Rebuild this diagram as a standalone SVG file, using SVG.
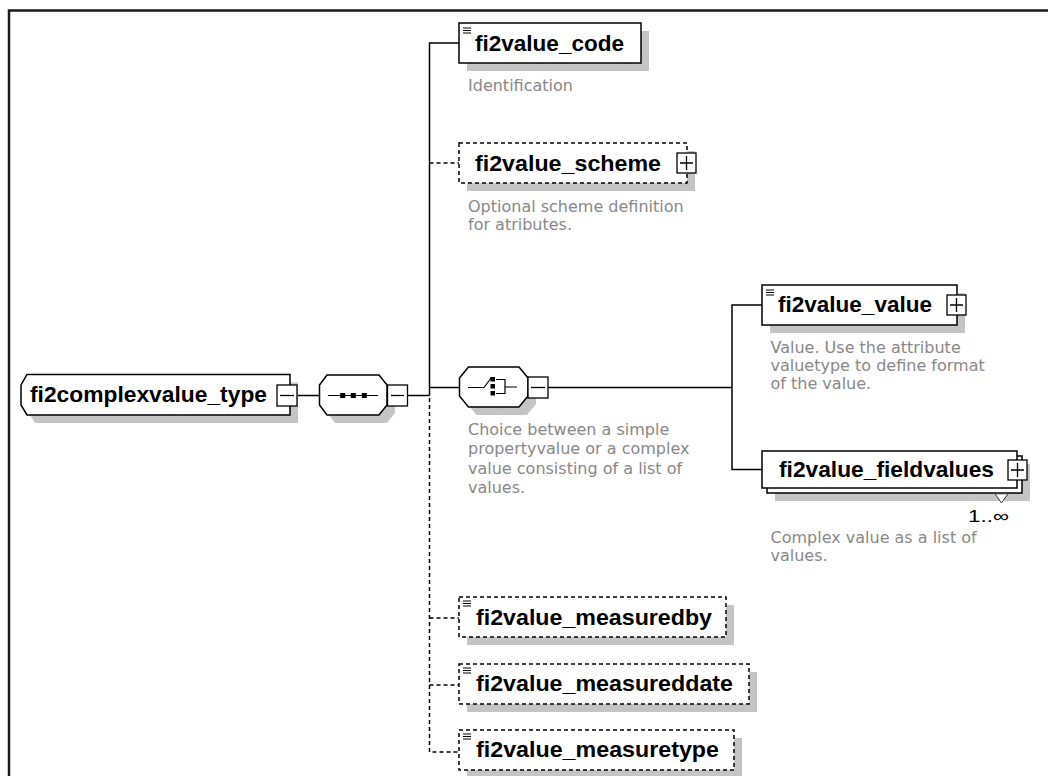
<svg xmlns="http://www.w3.org/2000/svg" width="1048" height="776" viewBox="0 0 1048 776">
<defs>
<style>
.frame{fill:none;stroke:#1a1a1a;stroke-width:2.5}
.box{fill:#fff;stroke:#000;stroke-width:1.5}
.dbox{fill:#fff;stroke:#000;stroke-width:1.5;stroke-dasharray:4 3}
.shadow{fill:#c4c4c4;stroke:none}
.conn{fill:none;stroke:#000;stroke-width:1.5}
.dconn{fill:none;stroke:#000;stroke-width:1.5;stroke-dasharray:4 3}
.lbl{font-family:"Liberation Sans",Arial,sans-serif;font-weight:bold;font-size:22px;fill:#000}
.desc{font-family:"DejaVu Sans",Verdana,sans-serif;font-size:16px;fill:#888}
.occ{font-family:"Liberation Sans",Arial,sans-serif;font-size:17px;fill:#000}
.btn{fill:#fff;stroke:#000;stroke-width:1.3}
.sign{stroke:#000;stroke-width:1.3;fill:none}
.icon{stroke:#000;stroke-width:1.2;fill:none}
</style>
</defs>
<rect x="0" y="0" width="1048" height="776" fill="#fff"/>
<rect class="frame" x="9" y="10.5" width="1100" height="800"/>

<g id="connectors">
  <path class="conn" d="M297,395.5 H319.5"/>
  <path class="conn" d="M407.5,395.5 H429.5"/>
  <path class="conn" d="M429.5,395.5 V43 H459"/>
  <path class="conn" d="M429.5,387.5 H459.5"/>
  <path class="dconn" d="M429.5,163 H459"/>
  <path class="dconn" d="M429.5,398 V752 H459"/>
  <path class="dconn" d="M429.5,618 H459"/>
  <path class="dconn" d="M429.5,685 H459"/>
  <path class="conn" d="M548,387.5 H732"/>
  <path class="conn" d="M762,305 H732 V469.5 H762"/>
</g>

<g id="fi2complexvalue_type">
  <polygon class="shadow" points="35,382.5 298,382.5 298,423 35,423 29,413 29,393"/>
  <polygon class="box" points="27,374.5 290,374.5 290,415 27,415 21,405 21,385"/>
  <text class="lbl" x="30" y="402" textLength="237" lengthAdjust="spacingAndGlyphs">fi2complexvalue_type</text>
  <rect class="btn" x="277" y="385" width="20" height="21"/>
  <line class="sign" x1="280" y1="395.5" x2="294" y2="395.5"/>
</g>

<g id="sequence">
  <polygon class="shadow" points="327.5,393 335,383 387,383 395,393 395,413 387,423 335,423 327.5,413"/>
  <polygon class="box" points="319.5,385 327,375 379,375 387,385 387,405 379,415 327,415 319.5,405"/>
  <line class="icon" x1="328" y1="395.5" x2="378" y2="395.5"/>
  <rect x="340.2" y="393" width="5" height="5" fill="#000"/>
  <rect x="350.8" y="393" width="5" height="5" fill="#000"/>
  <rect x="361.8" y="393" width="5" height="5" fill="#000"/>
  <rect class="btn" x="387.5" y="385" width="20" height="21"/>
  <line class="sign" x1="391" y1="395.5" x2="404" y2="395.5"/>
</g>

<g id="choice">
  <polygon class="shadow" points="467.5,386 476.5,375 527,375 536,386 536,404 527,415 476.5,415 467.5,404"/>
  <polygon class="box" points="459.5,378 468.5,367 519,367 528,378 528,396 519,407 468.5,407 459.5,396"/>
  <path class="icon" d="M468,387.5 H484 L491,378"/>
  <rect x="490.5" y="377" width="4.5" height="4.5" fill="#000"/>
  <rect x="490.5" y="384" width="4.5" height="4.5" fill="#000"/>
  <rect x="490.5" y="391" width="4.5" height="4.5" fill="#000"/>
  <path class="icon" d="M496,379.5 H505 V393.5 H496 M505,387 H517"/>
  <rect class="btn" x="528" y="377" width="20" height="21"/>
  <line class="sign" x1="531" y1="387.5" x2="545" y2="387.5"/>
  <text class="desc" x="468" y="435">Choice between a simple</text>
  <text class="desc" x="468" y="454">propertyvalue or a complex</text>
  <text class="desc" x="468" y="474">value consisting of a list of</text>
  <text class="desc" x="468" y="493">values.</text>
</g>

<g id="fi2value_code">
  <rect class="shadow" x="467" y="31" width="182" height="40"/>
  <rect class="box" x="459" y="23" width="182" height="40"/>
  <path class="icon" d="M463,28 H471 M463,30.5 H471 M463,33 H471"/>
  <text class="lbl" x="475" y="50.5" textLength="149" lengthAdjust="spacingAndGlyphs">fi2value_code</text>
  <text class="desc" x="468" y="91">Identification</text>
</g>

<g id="fi2value_scheme">
  <rect class="shadow" x="467" y="151" width="228" height="40"/>
  <rect class="dbox" x="459" y="143" width="228" height="40"/>
  <text class="lbl" x="475" y="170.5" textLength="186" lengthAdjust="spacingAndGlyphs">fi2value_scheme</text>
  <rect class="btn" x="677" y="153" width="19" height="20"/>
  <path class="sign" d="M680,163 H693 M686.5,156 V170"/>
  <text class="desc" x="468" y="212">Optional scheme definition</text>
  <text class="desc" x="468" y="230">for atributes.</text>
</g>

<g id="fi2value_value">
  <rect class="shadow" x="770" y="293" width="195" height="40"/>
  <rect class="box" x="762" y="285" width="195" height="40"/>
  <path class="icon" d="M766,290 H774 M766,292.5 H774 M766,295 H774"/>
  <text class="lbl" x="778" y="312" textLength="154" lengthAdjust="spacingAndGlyphs">fi2value_value</text>
  <rect class="btn" x="947" y="295" width="19" height="20"/>
  <path class="sign" d="M950,305 H963 M956.5,298 V312"/>
  <text class="desc" x="770.5" y="353">Value. Use the attribute</text>
  <text class="desc" x="770.5" y="371">valuetype to define format</text>
  <text class="desc" x="770.5" y="389">of the value.</text>
</g>

<g id="fi2value_fieldvalues">
  <rect class="shadow" x="775" y="464" width="255" height="37"/>
  <rect class="box" x="767" y="456" width="255" height="37"/>
  <rect class="box" x="762" y="451" width="255" height="37"/>
  <text class="lbl" x="779" y="476.5" textLength="215" lengthAdjust="spacingAndGlyphs">fi2value_fieldvalues</text>
  <rect class="btn" x="1008" y="460" width="19" height="20"/>
  <path class="sign" d="M1011,470 H1024 M1017.5,463 V477"/>
  <polygon points="995,493.8 1001.5,503 1008,493.8" fill="#fff" stroke="#333" stroke-width="1"/>
  <text class="occ" x="968" y="522" textLength="41" lengthAdjust="spacingAndGlyphs">1..∞</text>
  <text class="desc" x="770.5" y="543">Complex value as a list of</text>
  <text class="desc" x="770.5" y="561">values.</text>
</g>

<g id="fi2value_measuredby">
  <rect class="shadow" x="467" y="605" width="267" height="40"/>
  <rect class="dbox" x="459" y="597" width="267" height="40"/>
  <path class="icon" d="M463,601 H471 M463,603.5 H471 M463,606 H471"/>
  <text class="lbl" x="476" y="625" textLength="236" lengthAdjust="spacingAndGlyphs">fi2value_measuredby</text>
</g>

<g id="fi2value_measureddate">
  <rect class="shadow" x="467" y="672" width="290" height="40"/>
  <rect class="dbox" x="459" y="664" width="290" height="40"/>
  <path class="icon" d="M463,668 H471 M463,670.5 H471 M463,673 H471"/>
  <text class="lbl" x="476" y="691" textLength="257" lengthAdjust="spacingAndGlyphs">fi2value_measureddate</text>
</g>

<g id="fi2value_measuretype">
  <rect class="shadow" x="467" y="738" width="275" height="40"/>
  <rect class="dbox" x="459" y="730" width="275" height="40"/>
  <path class="icon" d="M463,734 H471 M463,736.5 H471 M463,739 H471"/>
  <text class="lbl" x="476" y="757" textLength="243" lengthAdjust="spacingAndGlyphs">fi2value_measuretype</text>
</g>
</svg>
